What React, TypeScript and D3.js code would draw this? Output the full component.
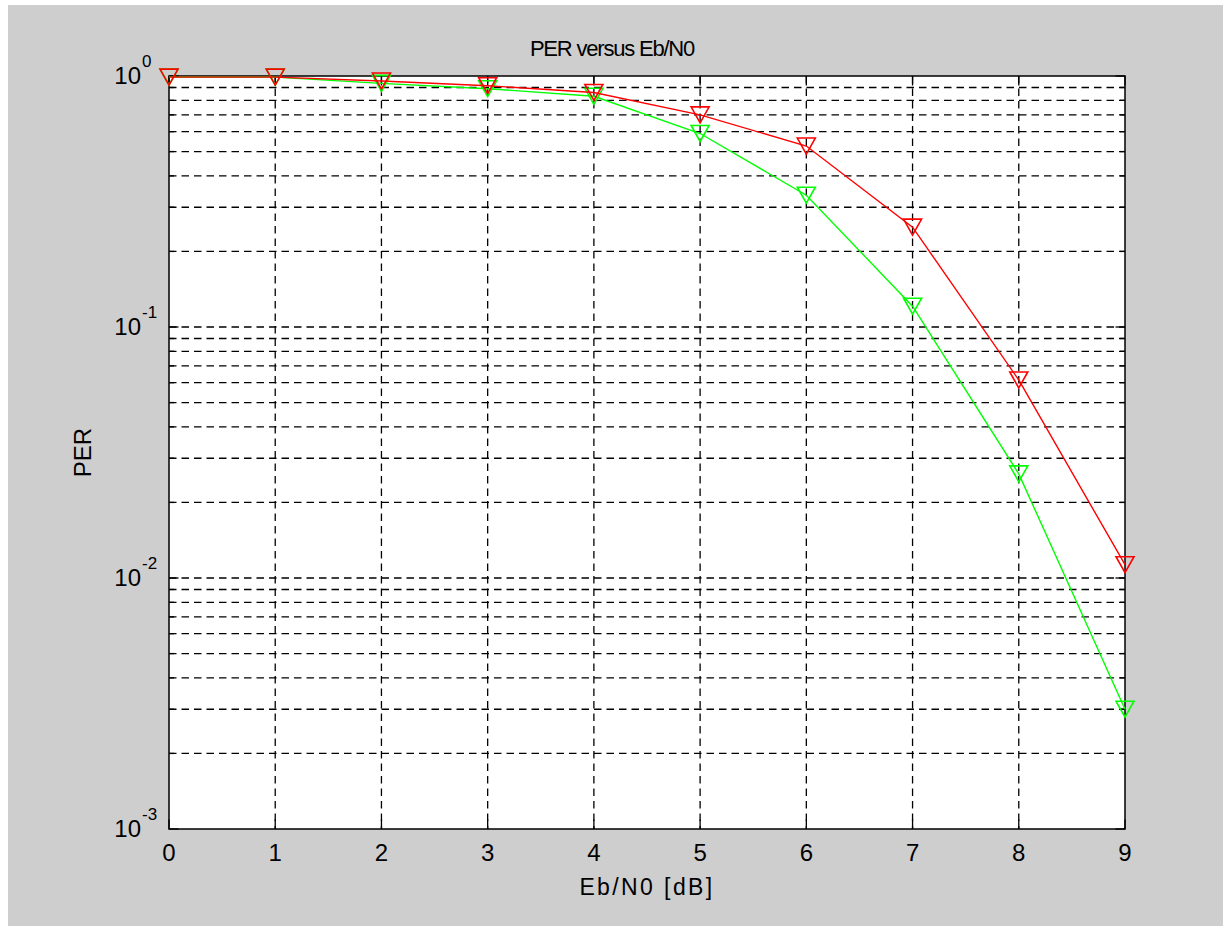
import React from 'react';
import * as d3 from 'd3';

// Eb/N0 in dB
const ebn0 = [0, 1, 2, 3, 4, 5, 6, 7, 8, 9];
// packet error rate
const perRed = [0.99, 0.99, 0.955, 0.915, 0.86, 0.70, 0.526, 0.25, 0.0615, 0.0113];
const perGreen = [0.99, 0.99, 0.935, 0.89, 0.83, 0.59, 0.335, 0.121, 0.026, 0.003];
const xTicks = [0, 1, 2, 3, 4, 5, 6, 7, 8, 9];
const yExponents = [0, -1, -2, -3];

const W = 1223;
const H = 926;
const margin = { top: 76, right: 98, bottom: 97, left: 169 };
const font = '"Liberation Sans", Arial, Helvetica, sans-serif';

const App = () => {
  const x = d3.scaleLinear().domain([0, 9]).range([margin.left, W - margin.right]);
  const y = d3.scaleLog().domain([1e-3, 1]).range([H - margin.bottom, margin.top]);

  const [x0, x1] = x.range();
  const [y0, y1] = y.range(); // y0 bottom, y1 top

  // minor decade lines 2..9 of each decade
  const minor: number[] = [];
  for (let e = -3; e < 0; e++) {
    for (let m = 2; m <= 9; m++) minor.push(m * Math.pow(10, e));
  }
  const majorY = yExponents.map(e => Math.pow(10, e));

  const line = d3.line<number>().x((_, i) => x(ebn0[i])).y(d => y(d));
  const tri = (cx: number, cy: number) =>
    `M${cx - 9},${cy - 8}L${cx + 9},${cy - 8}L${cx},${cy + 8}Z`;

  const gridStyle = { stroke: '#000', strokeWidth: 1.3, strokeDasharray: '7.5,5' };
  const majLen = 9.5;
  const minLen = 5;

  const series = [
    { values: perGreen, color: '#00ff00' },
    { values: perRed, color: '#ff0000' },
  ];

  return (
    <svg width={W} height={H} style={{ position: 'absolute', left: 0, top: 0 }}>
      <rect x={0} y={0} width={W} height={H} fill="#fff" />
      <rect x={8} y={5} width={W - 8} height={H - 5} fill="#cecece" />
      <rect x={x0} y={y1} width={x1 - x0} height={y0 - y1} fill="#fff" />

      {/* grid */}
      {xTicks.slice(1, -1).map(t => (
        <line key={'gx' + t} x1={x(t)} x2={x(t)} y1={y1} y2={y0} {...gridStyle} />
      ))}
      {[...minor, ...majorY.slice(1, -1)].map(v => (
        <line key={'gy' + v} x1={x0} x2={x1} y1={y(v)} y2={y(v)} {...gridStyle} />
      ))}

      {/* ticks */}
      {xTicks.map(t => (
        <g key={'tx' + t} stroke="#000" strokeWidth={1.3}>
          <line x1={x(t)} x2={x(t)} y1={y0} y2={y0 - majLen} />
          <line x1={x(t)} x2={x(t)} y1={y1} y2={y1 + majLen} />
        </g>
      ))}
      {majorY.map(v => (
        <g key={'ty' + v} stroke="#000" strokeWidth={1.3}>
          <line x1={x0} x2={x0 + majLen} y1={y(v)} y2={y(v)} />
          <line x1={x1} x2={x1 - majLen} y1={y(v)} y2={y(v)} />
        </g>
      ))}
      {minor.map(v => (
        <g key={'tm' + v} stroke="#000" strokeWidth={1.3}>
          <line x1={x0} x2={x0 + minLen} y1={y(v)} y2={y(v)} />
          <line x1={x1} x2={x1 - minLen} y1={y(v)} y2={y(v)} />
        </g>
      ))}

      {/* frame */}
      <rect x={x0} y={y1} width={x1 - x0} height={y0 - y1} fill="none" stroke="#000" strokeWidth={1.5} />

      {/* tick labels */}
      {xTicks.map(t => (
        <text key={'lx' + t} x={x(t)} y={y0 + 32} textAnchor="middle"
          fontFamily={font} fontSize={24} fill="#000">{t}</text>
      ))}
      {yExponents.map(e => (
        <g key={'ly' + e} fontFamily={font} fill="#000">
          <text x={141} y={y(Math.pow(10, e)) + 8} textAnchor="end" fontSize={24}>10</text>
          <text x={142} y={y(Math.pow(10, e)) - 9} textAnchor="start" fontSize={17}>{e}</text>
        </g>
      ))}

      {/* titles */}
      <text x={612} y={56} textAnchor="middle" fontFamily={font} fontSize={22}
        letterSpacing={-1.2} fill="#000">
        PER versus Eb/N0
      </text>
      <text x={(x0 + x1) / 2} y={895} textAnchor="middle" fontFamily={font} fontSize={23}
        letterSpacing={2.4} fill="#000">
        Eb/N0 [dB]
      </text>
      <text transform={`translate(91,${(y0 + y1) / 2}) rotate(-90)`} textAnchor="middle"
        fontFamily={font} fontSize={24} fill="#000">PER</text>

      {/* series */}
      {series.map((s, si) => (
        <g key={'s' + si}>
          <path d={line(s.values) || ''} fill="none" stroke={s.color} strokeWidth={1.4} />
          {s.values.map((v, i) => (
            <path key={i} d={tri(x(ebn0[i]), y(v))} fill="none" stroke={s.color} strokeWidth={1.6} />
          ))}
        </g>
      ))}
    </svg>
  );
};

export default App;
